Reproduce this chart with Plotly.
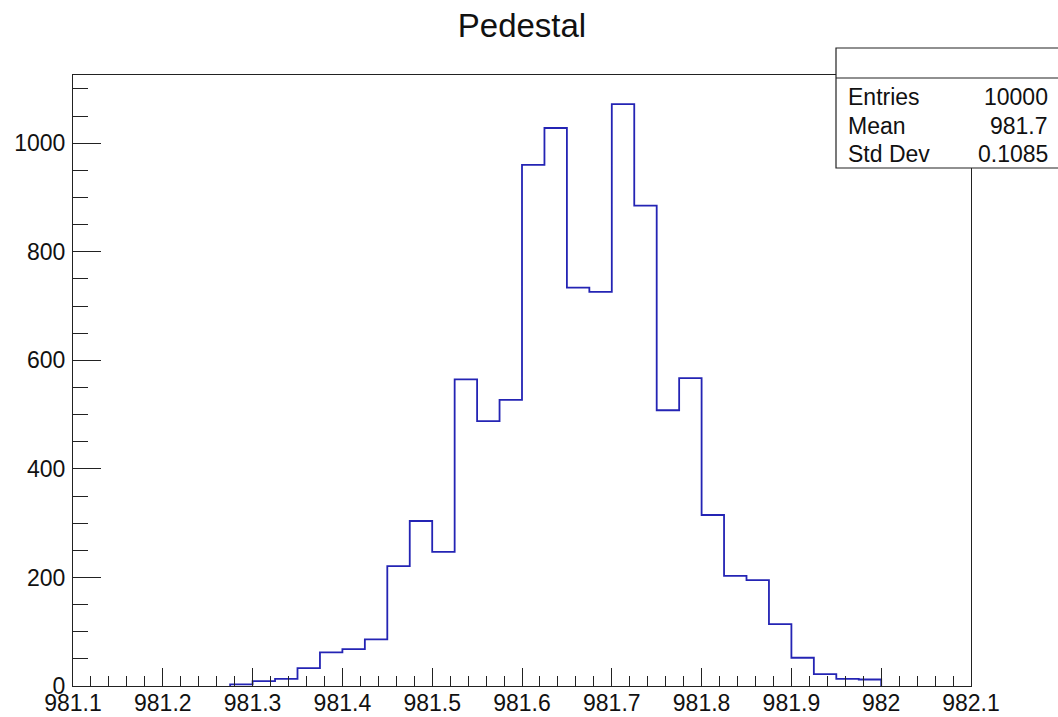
import numpy as np
import plotly.graph_objects as go

# ---- data ----
x_min = 981.1
x_max = 982.1
n_bins = 40
counts = [0, 0, 0, 0, 0, 0, 0,
          3, 9, 13, 33, 62, 68, 86, 221, 304, 247,
          565, 488, 527, 960, 1028, 734, 726, 1072, 885, 508, 567,
          315, 203, 195, 114, 52, 22, 13, 12,
          0, 0, 0, 0]
x_tick_vals = [981.1, 981.2, 981.3, 981.4, 981.5, 981.6, 981.7, 981.8, 981.9, 982.0, 982.1]
x_tick_labels = ["981.1", "981.2", "981.3", "981.4", "981.5", "981.6", "981.7",
                 "981.8", "981.9", "982", "982.1"]
y_tick_vals = [0, 200, 400, 600, 800, 1000]
y_tick_labels = ["0", "200", "400", "600", "800", "1000"]
title_text = "Pedestal"
stats_labels = ["Entries", "Mean", "Std Dev"]
stats_values = ["10000", "981.7", "0.1085"]

# ---- step outline built from bin edges ----
edges = np.linspace(x_min, x_max, n_bins + 1)
cnt = np.array(counts, dtype=float)
nz = np.nonzero(cnt)[0]
i0, i1 = nz[0], nz[-1]
xs = [edges[i0]]
ys = [0.0]
for i in range(i0, i1 + 1):
    xs += [edges[i], edges[i + 1]]
    ys += [cnt[i], cnt[i]]
xs.append(edges[i1 + 1])
ys.append(0.0)

W, H = 1058, 717
L, R, T, B = 73, 971, 75, 686
FONT = "Liberation Sans, Arial, Helvetica, sans-serif"
AX = "#222222"
TXT = "#111111"
FS = 23

def px(x):
    return (x - L) / (R - L)

def py(y):
    return (B - y) / (B - T)

fig = go.Figure()
fig.add_trace(go.Scatter(x=xs, y=ys, mode="lines",
                         line=dict(color="#2424b4", width=1.8),
                         hoverinfo="skip", showlegend=False))

ymax = 1.05 * cnt.max()

fig.update_layout(
    template="none",
    width=W, height=H,
    margin=dict(l=L, r=W - R, t=T, b=H - B, pad=0),
    paper_bgcolor="white", plot_bgcolor="white",
    font=dict(family=FONT, size=FS, color=TXT),
    showlegend=False,
    title=dict(text=title_text, x=522 / W, xanchor="center",
               y=1 - 25 / H, yanchor="middle", yref="container",
               font=dict(family=FONT, size=33, color=TXT)),
    xaxis=dict(range=[x_min, x_max], showgrid=False, zeroline=False, automargin=False,
               showline=True, linecolor=AX, linewidth=1.2, mirror=True,
               ticks="inside", ticklen=18, tickwidth=1.2, tickcolor=AX,
               tickmode="array", tickvals=x_tick_vals, ticktext=x_tick_labels,
               tickfont=dict(family=FONT, size=FS, color=TXT),
               ticklabelstandoff=-4,
               minor=dict(ticks="inside", ticklen=10, tickwidth=1.2,
                          tickcolor=AX, dtick=0.02, tick0=x_min, showgrid=False)),
    yaxis=dict(range=[0, ymax], showgrid=False, zeroline=False, automargin=False,
               showline=True, linecolor=AX, linewidth=1.2, mirror=True,
               ticks="inside", ticklen=28, tickwidth=1.2, tickcolor=AX,
               tickmode="array", tickvals=y_tick_vals, ticktext=y_tick_labels,
               tickfont=dict(family=FONT, size=FS, color=TXT),
               ticklabelstandoff=2,
               minor=dict(ticks="inside", ticklen=15, tickwidth=1.2,
                          tickcolor=AX, dtick=50, tick0=0, showgrid=False)),
)

# stats box
bx0, bx1, by0, by1, bh = 836, 1075, 48, 168, 78
fig.add_shape(type="rect", xref="paper", yref="paper",
              x0=px(bx0), x1=px(bx1), y0=py(by1), y1=py(by0),
              line=dict(color=AX, width=1.2), fillcolor="white", layer="above")
fig.add_shape(type="line", xref="paper", yref="paper",
              x0=px(bx0), x1=px(bx1), y0=py(bh), y1=py(bh),
              line=dict(color=AX, width=1.2), layer="above")
row_y = [96.5, 125.5, 154]
for lab, val, yy in zip(stats_labels, stats_values, row_y):
    fig.add_annotation(text=lab, xref="paper", yref="paper", x=px(846), y=py(yy),
                       xanchor="left", yanchor="middle", showarrow=False,
                       font=dict(family=FONT, size=FS, color=TXT))
    fig.add_annotation(text=val, xref="paper", yref="paper", x=px(1050), y=py(yy),
                       xanchor="right", yanchor="middle", showarrow=False,
                       font=dict(family=FONT, size=FS, color=TXT))

fig.write_html("out.html")
